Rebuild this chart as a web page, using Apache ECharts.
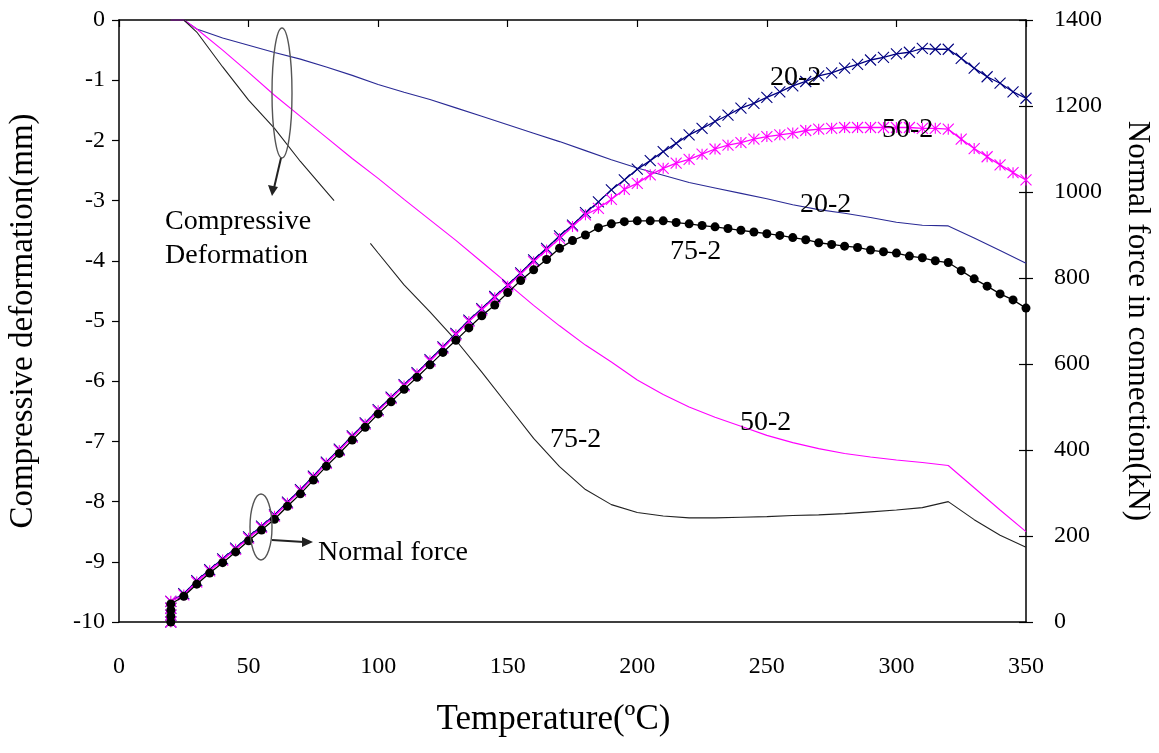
<!DOCTYPE html>
<html>
<head>
<meta charset="utf-8">
<script src="https://cdn.jsdelivr.net/npm/echarts@6/dist/echarts.min.js"></script>
<style>
html,body{margin:0;padding:0;background:#fff;}
#chart{width:1159px;height:753px;}
</style>
</head>
<body>
<div id="chart"></div>
<script>
// ---------- Data ----------
const xTicks = [0, 50, 100, 150, 200, 250, 300, 350];
const leftTicks = [0, -1, -2, -3, -4, -5, -6, -7, -8, -9, -10];
const rightTicks = [0, 200, 400, 600, 800, 1000, 1200, 1400];

// Compressive deformation (mm), left axis
const defTemps = [20, 25, 30, 40, 50, 60, 70, 80, 90, 100, 110, 120, 130, 140, 150, 160, 170, 180, 190, 200, 210, 220, 230, 240, 250, 260, 270, 280, 290, 300, 310, 320, 330, 340, 350];
const def20_2 = [0, 0, -0.15, -0.3, -0.42, -0.54, -0.65, -0.78, -0.92, -1.07, -1.2, -1.32, -1.46, -1.6, -1.74, -1.88, -2.02, -2.17, -2.32, -2.46, -2.58, -2.7, -2.79, -2.88, -2.97, -3.07, -3.15, -3.21, -3.28, -3.36, -3.41, -3.42, -3.62, -3.83, -4.04];
const def50_2 = [0, 0, -0.15, -0.5, -0.87, -1.25, -1.6, -1.95, -2.3, -2.63, -2.98, -3.32, -3.66, -4.02, -4.38, -4.74, -5.08, -5.4, -5.68, -5.98, -6.22, -6.43, -6.6, -6.75, -6.9, -7.02, -7.12, -7.2, -7.26, -7.31, -7.35, -7.4, -7.77, -8.14, -8.5];
const def75Temps = [20, 25, 30, 40, 50, 60, 70, 80, 83, 90, 97, 100, 110, 120, 130, 140, 150, 160, 170, 180, 190, 200, 210, 220, 230, 240, 250, 260, 270, 280, 290, 300, 310, 320, 330, 340, 350];
const def75_2 = [0, 0, -0.2, -0.78, -1.33, -1.8, -2.35, -2.85, -3.0, null, -3.71, -3.87, -4.4, -4.85, -5.32, -5.85, -6.4, -6.95, -7.42, -7.8, -8.05, -8.18, -8.24, -8.27, -8.27, -8.26, -8.25, -8.23, -8.22, -8.2, -8.17, -8.14, -8.1, -8.0, -8.3, -8.56, -8.76];

// Normal force in connection (kN), right axis
const forceTemps = [20, 20, 20, 20, 25, 30, 35, 40, 45, 50, 55, 60, 65, 70, 75, 80, 85, 90, 95, 100, 105, 110, 115, 120, 125, 130, 135, 140, 145, 150, 155, 160, 165, 170, 175, 180, 185, 190, 195, 200, 205, 210, 215, 220, 225, 230, 235, 240, 245, 250, 255, 260, 265, 270, 275, 280, 285, 290, 295, 300, 305, 310, 315, 320, 325, 330, 335, 340, 345, 350];
const force20_2 = [0, 16, 32, 48, 66, 96, 122, 147, 172, 198, 223, 249, 279, 308, 339, 372, 402, 433, 463, 494, 523, 552, 580, 610, 640, 671, 702, 729, 757, 784, 812, 842, 869, 898, 923, 952, 977, 1005, 1028, 1053, 1073, 1094, 1113, 1133, 1148, 1164, 1179, 1195, 1206, 1220, 1233, 1247, 1257, 1270, 1277, 1288, 1297, 1307, 1313, 1321, 1325, 1334, 1332, 1332, 1311, 1288, 1268, 1253, 1233, 1218];
const force50_2 = [0, 16, 32, 48, 63, 93, 119, 144, 169, 195, 220, 246, 276, 305, 336, 369, 399, 430, 460, 491, 520, 549, 577, 607, 637, 668, 699, 726, 754, 781, 809, 838, 865, 892, 920, 947, 962, 983, 1006, 1020, 1040, 1055, 1067, 1076, 1088, 1100, 1109, 1115, 1123, 1129, 1133, 1137, 1143, 1146, 1148, 1150, 1150, 1150, 1150, 1150, 1150, 1148, 1148, 1146, 1123, 1101, 1082, 1063, 1045, 1028];
const force75_2 = [0, 14, 28, 42, 60, 88, 114, 138, 163, 189, 214, 239, 269, 298, 330, 362, 392, 423, 453, 484, 512, 541, 569, 598, 627, 655, 684, 712, 737, 766, 794, 819, 843, 869, 887, 900, 917, 926, 931, 933, 933, 933, 929, 926, 922, 919, 915, 911, 907, 903, 899, 894, 889, 882, 878, 874, 871, 865, 861, 858, 851, 847, 840, 836, 817, 798, 781, 763, 749, 730];

// ---------- Chart ----------
const pair = (xs, ys) => xs.map((x, i) => [x, ys[i]]);
const FONT = '"Liberation Serif", "Times New Roman", serif';
const BLUE = '#000080', MAG = '#ff00ff', BLK = '#000000';

const chart = echarts.init(document.getElementById('chart'), null, {renderer: 'canvas'});

const txt = (x, y, s, size) => ({
  type: 'text', x: x, y: y, z: 100,
  style: {text: s, font: (size || 28) + 'px ' + FONT, fill: '#000', align: 'left', verticalAlign: 'middle'}
});

const G = {left: 119, right: 133, top: 20, bottom: 131, outerBoundsMode: 'none', containLabel: false};
const AX = {color: '#000', width: 1.5};
const TK = {color: '#000', width: 1.2};

const option = {
  animation: false,
  backgroundColor: '#fff',
  grid: [Object.assign({}, G), Object.assign({}, G)],
  xAxis: [{
    type: 'value', gridIndex: 0, min: 0, max: 350, interval: 50, position: 'bottom',
    name: 'Temperature(ºC)', nameLocation: 'middle', nameGap: 80,
    nameTextStyle: {fontFamily: FONT, fontSize: 35, color: '#000', padding: [0, 38, 0, 0]},
    axisLine: {show: true, onZero: false, lineStyle: AX},
    axisTick: {show: false},
    axisLabel: {fontFamily: FONT, fontSize: 24, color: '#000', margin: 33,
      formatter: v => xTicks.includes(v) ? String(v) : ''},
    splitLine: {show: false}
  }, {
    type: 'value', gridIndex: 0, min: 0, max: 350, interval: 50, position: 'top',
    axisLine: {show: true, onZero: false, lineStyle: AX},
    axisTick: {show: true, inside: true, length: 7, lineStyle: TK},
    axisLabel: {show: false}, splitLine: {show: false}
  }, {
    type: 'value', gridIndex: 1, min: 0, max: 350, show: false,
    axisLine: {onZero: false}
  }],
  yAxis: [{
    type: 'value', gridIndex: 0, min: -10, max: 0, interval: 1, position: 'left',
    name: 'Compressive deformation(mm)', nameLocation: 'middle', nameGap: 79,
    nameTextStyle: {fontFamily: FONT, fontSize: 33, color: '#000'},
    axisLine: {show: true, onZero: false, lineStyle: AX},
    axisTick: {show: true, inside: false, length: 7, lineStyle: TK},
    axisLabel: {fontFamily: FONT, fontSize: 24, color: '#000', margin: 14,
      formatter: v => leftTicks.includes(Math.round(v)) ? String(Math.round(v)) : ''},
    splitLine: {show: false}
  }, {
    type: 'value', gridIndex: 0, min: 0, max: 1400, interval: 200, position: 'right',
    name: 'Normal force in connection(kN)', nameLocation: 'middle', nameGap: 96, nameRotate: -90,
    nameTextStyle: {fontFamily: FONT, fontSize: 31, color: '#000'},
    axisLine: {show: true, onZero: false, lineStyle: AX},
    axisTick: {show: true, inside: false, length: 7, lineStyle: TK},
    axisLabel: {fontFamily: FONT, fontSize: 24, color: '#000', margin: 28,
      formatter: v => rightTicks.includes(v) ? String(v) : ''},
    splitLine: {show: false}
  }, {
    type: 'value', gridIndex: 1, min: 0, max: 1400, interval: 200, position: 'right',
    axisLine: {show: false, onZero: false},
    axisTick: {show: true, inside: true, length: 7, lineStyle: TK},
    axisLabel: {show: false}, splitLine: {show: false}
  }],
  series: [
    {name: 'def 20-2', type: 'line', xAxisIndex: 0, yAxisIndex: 0, data: pair(defTemps, def20_2), showSymbol: false, symbol: 'none',
      lineStyle: {color: '#2a2a95', width: 1.1}, z: 2},
    {name: 'def 50-2', type: 'line', xAxisIndex: 0, yAxisIndex: 0, data: pair(defTemps, def50_2), showSymbol: false, symbol: 'none',
      lineStyle: {color: MAG, width: 1.1}, z: 2},
    {name: 'def 75-2', type: 'line', xAxisIndex: 0, yAxisIndex: 0, data: pair(def75Temps, def75_2), showSymbol: false, symbol: 'none',
      connectNulls: false, lineStyle: {color: '#222', width: 1.1}, z: 2},
    {name: 'force 20-2', type: 'line', xAxisIndex: 0, yAxisIndex: 1, data: pair(forceTemps, force20_2),
      symbol: 'path://M0,0L10,10M10,0L0,10', symbolSize: 11, showSymbol: true,
      itemStyle: {color: 'rgba(0,0,0,0)', borderColor: BLUE, borderWidth: 1.1},
      lineStyle: {color: BLUE, width: 1.3}, z: 3},
    {name: 'force 50-2', type: 'line', xAxisIndex: 0, yAxisIndex: 1, data: pair(forceTemps, force50_2),
      symbol: 'path://M0,0L10,10M10,0L0,10M5,0L5,10', symbolSize: 11, showSymbol: true,
      itemStyle: {color: 'rgba(0,0,0,0)', borderColor: MAG, borderWidth: 1.1},
      lineStyle: {color: MAG, width: 1.3}, z: 4},
    {name: 'force 75-2', type: 'line', xAxisIndex: 0, yAxisIndex: 1, data: pair(forceTemps, force75_2),
      symbol: 'circle', symbolSize: 9, showSymbol: true,
      itemStyle: {color: BLK, borderWidth: 0},
      lineStyle: {color: BLK, width: 1.3}, z: 5}
  ],
  graphic: [
    txt(770, 78, '20-2'), txt(882, 130, '50-2'), txt(800, 205, '20-2'),
    txt(670, 252, '75-2'), txt(550, 440, '75-2'), txt(740, 423, '50-2'),
    txt(165, 222, 'Compressive'), txt(165, 256, 'Deformation'),
    txt(318, 553, 'Normal force'),
    {type: 'ellipse', z: 100, shape: {cx: 282, cy: 93, rx: 10, ry: 65},
      style: {fill: 'none', stroke: '#555', lineWidth: 1.4}},
    {type: 'line', z: 100, shape: {x1: 281, y1: 158, x2: 274, y2: 188},
      style: {stroke: '#222', lineWidth: 2}},
    {type: 'polygon', z: 100, shape: {points: [[272, 196], [268, 185], [278, 187]]},
      style: {fill: '#222'}},
    {type: 'ellipse', z: 100, shape: {cx: 261, cy: 527, rx: 11, ry: 33},
      style: {fill: 'none', stroke: '#555', lineWidth: 1.4}},
    {type: 'line', z: 100, shape: {x1: 272, y1: 540, x2: 304, y2: 542},
      style: {stroke: '#222', lineWidth: 2}},
    {type: 'polygon', z: 100, shape: {points: [[313, 542], [302, 537], [302, 547]]},
      style: {fill: '#222'}}
  ]
};
chart.setOption(option);
</script>
</body>
</html>
